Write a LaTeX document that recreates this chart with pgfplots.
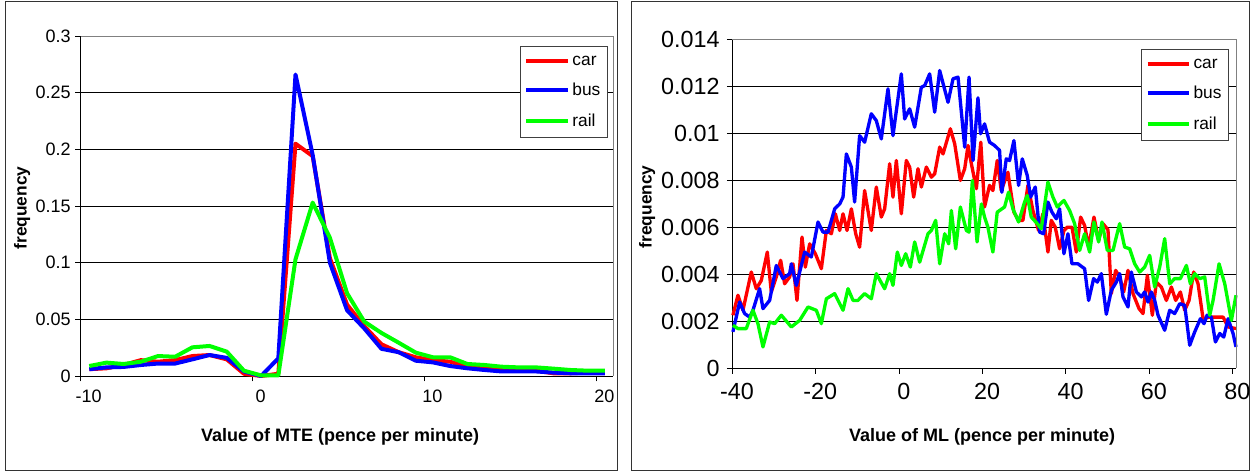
\documentclass[border=0pt]{standalone}
\usepackage{fontspec}
\setmainfont{Liberation Sans}
\usepackage{pgfplots}
\pgfplotsset{compat=1.18}

\definecolor{xred}{RGB}{255,0,0}
\definecolor{xblue}{RGB}{0,0,255}
\definecolor{xgreen}{RGB}{0,255,0}

\pgfplotsset{
  excel/.style={
    scale only axis, clip=false,
    axis lines=left, axis line style={-, black, line width=0.75pt},
    tick align=outside, tick pos=left, major tick length=4pt,
    tick style={black, line width=0.75pt},
    ymajorgrids, major grid style={black, line width=0.75pt},
    scaled ticks=false,
    /pgf/number format/assume math mode=true,
    xlabel style={font=\fontsize{13.5}{15}\selectfont\bfseries, anchor=center},
    ylabel style={font=\fontsize{13}{15}\selectfont\bfseries, anchor=center, rotate=0},
    legend cell align=left,
    legend style={draw=black!75, line width=0.75pt, fill=white,
      font=\fontsize{13}{15}\selectfont, inner xsep=3pt, inner ysep=5pt,
      row sep=8pt, anchor=north west},
    legend image code/.code={\draw[#1, line width=3pt] (0pt,0pt) -- (31pt,0pt);},
    every axis plot/.append style={line width=3pt, line join=round, mark=none},
  }
}

\begin{document}
\begin{tikzpicture}
\useasboundingbox (0,0) rectangle (942pt,354pt);
\draw[black!80, line width=0.75pt] (3.75pt,1.5pt) rectangle (462.75pt,352.5pt);
\draw[black!80, line width=0.75pt] (473.25pt,1.5pt) rectangle (936.75pt,352.5pt);

% left panel: MTE
\begin{axis}[excel,
  at={(60.5pt,72pt)}, anchor=south west,
  width=399.6pt, height=255pt,
  xmin=-10, xmax=21, ymin=0, ymax=0.3,
  xtick={-10,0,10,20}, ytick={0,0.05,...,0.3},
  yticklabel style={/pgf/number format/fixed, /pgf/number format/precision=2},
  ticklabel style={font=\fontsize{13.5}{15}\selectfont},
  xticklabel style={yshift=-3pt, xshift=6pt},
  xlabel={Value of MTE (pence per minute)},
  ylabel={frequency},
  xlabel style={at={(axis description cs:0.487,-0.179)}},
  ylabel style={at={(axis description cs:-0.110,0.494)}, rotate=0},
  legend style={at={(axis description cs:0.8245,0.9706)}},
]
\addplot[xred] coordinates {
 (-9.5,0.006) (-8.5,0.0068) (-7.5,0.0097) (-6.5,0.014) (-5.5,0.0126) (-4.5,0.014)
 (-3.5,0.0176) (-2.5,0.0185) (-1.5,0.0147) (-0.5,0.002) (0.5,0) (1.5,0.002)
 (2.5,0.205) (3.5,0.194) (4.5,0.104) (5.5,0.063) (6.5,0.044) (7.5,0.028)
 (8.5,0.021) (9.5,0.0165) (10.5,0.014) (11.5,0.0126) (12.5,0.0082) (13.5,0.0068)
 (14.5,0.0059) (15.5,0.0059) (16.5,0.0047) (17.5,0.0024) (18.5,0.0024) (19.5,0.003) (20.5,0.003)};
\addlegendentry{car}
\addplot[xblue] coordinates {
 (-9.5,0.006) (-8.5,0.0076) (-7.5,0.008) (-6.5,0.0097) (-5.5,0.011) (-4.5,0.011)
 (-3.5,0.0147) (-2.5,0.0185) (-1.5,0.016) (-0.5,0.004) (0.5,0) (1.5,0.0156)
 (2.5,0.266) (3.5,0.195) (4.5,0.1) (5.5,0.058) (6.5,0.042) (7.5,0.024)
 (8.5,0.021) (9.5,0.0135) (10.5,0.012) (11.5,0.0088) (12.5,0.0068) (13.5,0.0053)
 (14.5,0.004) (15.5,0.004) (16.5,0.004) (17.5,0.003) (18.5,0.0024) (19.5,0.0024) (20.5,0.0024)};
\addlegendentry{bus}
\addplot[xgreen] coordinates {
 (-9.5,0.0088) (-8.5,0.0118) (-7.5,0.0106) (-6.5,0.0126) (-5.5,0.0176) (-4.5,0.017)
 (-3.5,0.0253) (-2.5,0.0265) (-1.5,0.0215) (-0.5,0.0047) (0.5,0.0005) (1.5,0.0005)
 (2.5,0.103) (3.5,0.153) (4.5,0.122) (5.5,0.073) (6.5,0.048) (7.5,0.038)
 (8.5,0.0294) (9.5,0.0206) (10.5,0.0165) (11.5,0.0165) (12.5,0.0106) (13.5,0.0097)
 (14.5,0.0082) (15.5,0.0076) (16.5,0.0076) (17.5,0.0065) (18.5,0.0053) (19.5,0.0047) (20.5,0.0047)};
\addlegendentry{rail}
\draw[gray, line width=0.75pt] (rel axis cs:0,1) -- (rel axis cs:1,1) -- (rel axis cs:1,0);
\end{axis}

% right panel: ML
\begin{axis}[excel,
  at={(549.2pt,77.8pt)}, anchor=south west,
  width=377.8pt, height=246.5pt,
  xmin=-40, xmax=80.8, ymin=0, ymax=0.014,
  xtick={-40,-20,...,80}, ytick={0,0.002,...,0.014},
  yticklabel style={/pgf/number format/fixed, /pgf/number format/precision=3},
  ticklabel style={font=\fontsize{17.5}{19}\selectfont},
  xticklabel style={yshift=-4pt, xshift=3.5pt},
  yticklabel style={xshift=-2pt},
  xlabel={Value of ML (pence per minute)},
  ylabel={frequency},
  xlabel style={at={(axis description cs:0.496,-0.209)}},
  ylabel style={at={(axis description cs:-0.169,0.491)}},
  legend style={at={(axis description cs:0.8114,0.9717)}},
  every axis plot/.append style={line width=2.5pt},
]
\addplot[xred] coordinates {
 (-39.84,0.00226) (-38.64,0.00311) (-37.44,0.00247) (-35.44,0.00410) (-34.24,0.00339)
 (-33.04,0.00374) (-31.6,0.00495) (-30.64,0.00325) (-29.44,0.00389) (-28.4,0.00460)
 (-27.44,0.00360) (-26.24,0.00389) (-25.44,0.00445) (-24.48,0.00289) (-23.28,0.00559)
 (-22.48,0.00431) (-21.44,0.00530) (-20.08,0.00488) (-18.64,0.00424) (-17.44,0.00587)
 (-16.24,0.00573) (-15.28,0.00658) (-14.24,0.00587) (-13.44,0.00658) (-12.48,0.00587)
 (-11.44,0.00679) (-10.4,0.00573) (-9.46,0.00516) (-8.26,0.00757) (-6.66,0.00587)
 (-5.46,0.00772) (-4.26,0.00644) (-3.46,0.00679) (-2.26,0.00871) (-1.46,0.00729)
 (-0.66,0.00885) (0.54,0.00658) (1.74,0.00885) (2.54,0.00857) (3.5,0.00729)
 (4.54,0.00850) (5.34,0.00772) (6.54,0.00857) (7.74,0.00814) (8.54,0.00828)
 (9.74,0.00942) (10.54,0.00913) (12.3,0.01020) (13.34,0.00956) (14.7,0.00800)
 (15.74,0.00850) (16.54,0.00949) (17.34,0.00871) (18.54,0.00765) (19.6,0.00963)
 (20.5,0.00687) (21.7,0.00779) (22.5,0.00757) (23.54,0.00885) (24.5,0.00757)
 (26.1,0.00835) (27.54,0.00665) (28.66,0.00630) (29.7,0.00630) (30.9,0.00779)
 (32.1,0.00672) (33.46,0.00587) (34.5,0.00658) (35.7,0.00495) (36.5,0.00630)
 (37.46,0.00601) (38.5,0.00509) (39.54,0.00587) (40.34,0.00601) (41.46,0.00601)
 (42.5,0.00495) (43.54,0.00644) (44.5,0.00608) (45.46,0.00516) (46.74,0.00644)
 (47.86,0.00545) (48.9,0.00616) (50.1,0.00590) (50.9,0.00318) (51.94,0.00417)
 (52.9,0.00389) (53.86,0.00325) (54.9,0.00417) (56.1,0.00318) (57.54,0.00254)
 (58.5,0.00233) (59.54,0.00396) (60.74,0.00226) (61.7,0.00367) (62.9,0.00346)
 (64.1,0.00289) (65.3,0.00346) (66.34,0.00289) (67.46,0.00325) (68.5,0.00247)
 (69.54,0.00289) (70.66,0.00410) (71.7,0.00360) (72.9,0.00211) (74.5,0.00218)
 (76.1,0.00218) (77.7,0.00218) (78.9,0.00176) (80.8,0.00169)};
\addlegendentry{car}
\addplot[xblue] coordinates {
 (-39.84,0.00155) (-38.24,0.00282) (-37.04,0.00233) (-35.84,0.00218) (-35.04,0.00247)
 (-33.44,0.00339) (-32.64,0.00254) (-31.04,0.00289) (-29.44,0.00438) (-27.84,0.00382)
 (-26.24,0.00403) (-25.84,0.00445) (-24.64,0.00353) (-22.64,0.00495) (-21.04,0.00474)
 (-19.44,0.00623) (-18.24,0.00580) (-17.04,0.00580) (-15.44,0.00679) (-14.24,0.00700)
 (-13.44,0.00729) (-12.64,0.00913) (-11.44,0.00857) (-10.66,0.00708) (-9.46,0.00991)
 (-8.26,0.00963) (-6.66,0.01084) (-5.46,0.01055) (-4.26,0.00977) (-2.66,0.01190)
 (-1.46,0.00991) (0.54,0.01254) (1.34,0.01062) (2.54,0.01105) (3.74,0.01027)
 (5.34,0.01197) (6.14,0.01204) (7.34,0.01254) (8.54,0.01091) (9.74,0.01268)
 (11.74,0.01133) (12.94,0.01233) (14.14,0.01240) (15.74,0.00942) (16.78,0.01240)
 (17.74,0.00885) (18.92,0.01152) (19.54,0.00999) (20.5,0.01041) (21.7,0.00963)
 (22.9,0.00949) (24.1,0.00928) (24.66,0.00750) (25.7,0.00892) (26.5,0.00885)
 (27.54,0.00970) (28.66,0.00779) (29.54,0.00892) (30.74,0.00821) (31.54,0.00729)
 (32.66,0.00772) (33.7,0.00580) (34.66,0.00573) (35.7,0.00708) (36.66,0.00665)
 (37.7,0.00637) (38.5,0.00679) (39.54,0.00488) (40.5,0.00573) (41.46,0.00445)
 (42.9,0.00445) (44.5,0.00424) (45.46,0.00289) (46.66,0.00382) (47.54,0.00367)
 (48.5,0.00403) (49.7,0.00230) (50.9,0.00332) (52.1,0.00367) (52.9,0.00403)
 (53.7,0.00304) (54.9,0.00261) (55.7,0.00410) (56.9,0.00325) (58.1,0.00304)
 (58.9,0.00325) (59.7,0.00282) (60.5,0.00325) (61.3,0.00289) (62.1,0.00226)
 (63.7,0.00162) (64.9,0.00247) (66.1,0.00233) (67.3,0.00275) (68.5,0.00268)
 (69.7,0.00098) (70.9,0.00155) (72.26,0.00211) (73.14,0.00190) (73.86,0.00226)
 (74.9,0.00218) (75.86,0.00112) (76.9,0.00148) (77.86,0.00133) (78.9,0.00211)
 (80.1,0.00148) (80.8,0.00091)};
\addlegendentry{bus}
\addplot[xgreen] coordinates {
 (-39.84,0.00183) (-38.64,0.00169) (-36.64,0.00169) (-35.04,0.00247) (-33.84,0.00190)
 (-32.64,0.00091) (-31.04,0.00197) (-29.84,0.00190) (-28.24,0.00226) (-25.84,0.00176)
 (-23.84,0.00204) (-21.84,0.00261) (-19.84,0.00247) (-18.64,0.00190) (-17.44,0.00296)
 (-15.44,0.00318) (-13.44,0.00247) (-12.24,0.00339) (-11.04,0.00289) (-9.86,0.00289)
 (-8.26,0.00318) (-6.66,0.00296) (-5.46,0.00403) (-3.46,0.00339) (-2.26,0.00403)
 (-1.46,0.00353) (-0.42,0.00495) (0.54,0.00438) (1.58,0.00488) (2.7,0.00431)
 (3.74,0.00538) (4.94,0.00452) (6.94,0.00573) (7.74,0.00587) (8.78,0.00630)
 (9.74,0.00445) (10.94,0.00573) (11.9,0.00530) (12.54,0.00672) (13.58,0.00509)
 (14.7,0.00687) (16.14,0.00587) (16.78,0.00580) (17.58,0.00800) (18.7,0.00538)
 (19.74,0.00700) (20.5,0.00644) (21.3,0.00601) (22.5,0.00495) (23.54,0.00665)
 (25.3,0.00687) (26.26,0.00750) (27.3,0.00679) (28.66,0.00623) (30.1,0.00708)
 (30.74,0.00736) (31.7,0.00644) (33.14,0.00616) (34.1,0.00594) (35.7,0.00793)
 (36.9,0.00729) (37.94,0.00687) (39.54,0.00715) (40.9,0.00672) (42.1,0.00616)
 (43.3,0.00502) (44.5,0.00573) (45.7,0.00495) (46.74,0.00623) (47.86,0.00538)
 (48.66,0.00623) (49.94,0.00502) (51.3,0.00502) (52.9,0.00616) (54.1,0.00516)
 (55.3,0.00509) (56.5,0.00445) (57.7,0.00410) (58.9,0.00431) (60.1,0.00481)
 (61.3,0.00346) (62.5,0.00431) (63.7,0.00552) (64.9,0.00360) (66.1,0.00382)
 (67.46,0.00382) (68.9,0.00438) (69.86,0.00360) (70.9,0.00403) (72.1,0.00382)
 (73.3,0.00389) (74.5,0.00226) (75.3,0.00289) (76.74,0.00445) (78.1,0.00360)
 (79.7,0.00204) (80.8,0.00311)};
\addlegendentry{rail}
\draw[gray, line width=0.75pt] (rel axis cs:0,1) -- (rel axis cs:1,1) -- (rel axis cs:1,0);
\end{axis}
\end{tikzpicture}
\end{document}
